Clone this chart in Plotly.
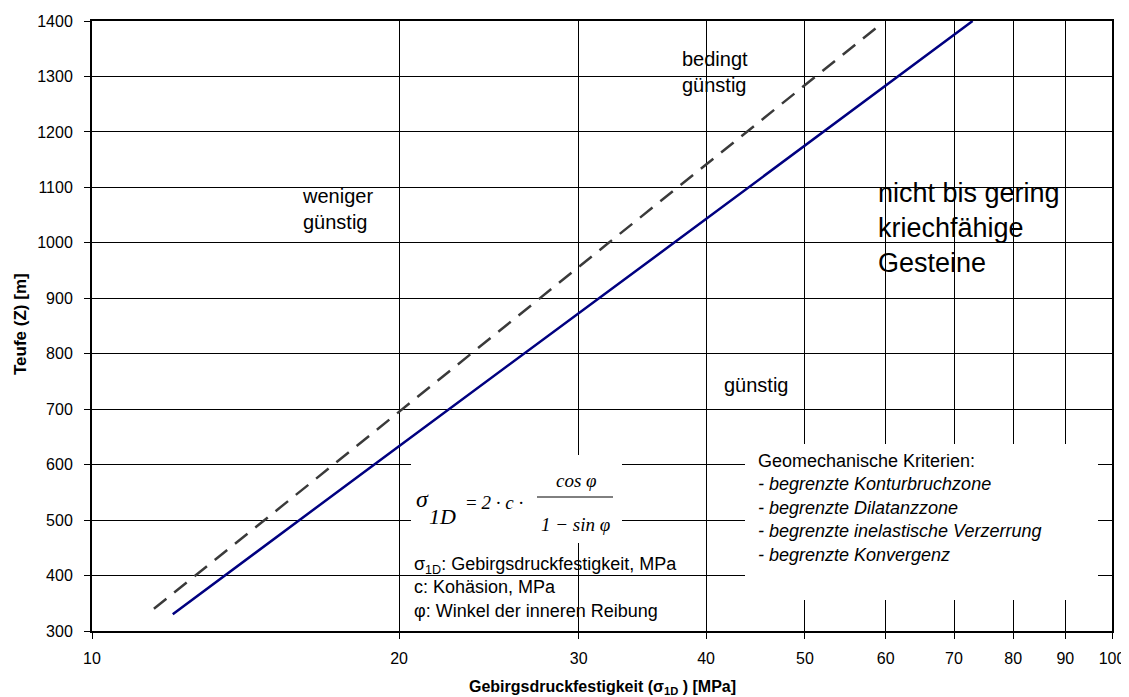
import plotly.graph_objects as go

# Data
solid_x = [12.0, 18.9, 37.2, 73.0]
solid_y = [330, 600, 1000, 1400]
dashed_x = [11.5, 17.25, 32.1, 59.6]
dashed_y = [340, 600, 1000, 1397]

x_tickvals = [10, 20, 30, 40, 50, 60, 70, 80, 90, 100]
x_ticktext = ["10", "20", "30", "40", "50", "60", "70", "80", "90", "100"]
y_tickvals = list(range(300, 1401, 100))

FONT = "Liberation Sans, Arial, sans-serif"
SERIF = "Liberation Serif, Times New Roman, serif"

fig = go.Figure()
fig.add_trace(go.Scatter(x=dashed_x, y=dashed_y, mode="lines",
                         line=dict(color="#3a3a3a", width=2.5, dash="16px,10px"),
                         showlegend=False, hoverinfo="skip"))
fig.add_trace(go.Scatter(x=solid_x, y=solid_y, mode="lines",
                         line=dict(color="#000080", width=2.5),
                         showlegend=False, hoverinfo="skip"))

# page has an 8px body margin: figure is shrunk so it fits the 1129x697 window
OFF = 8
W, H = 1129 - OFF, 697 - OFF
L, R, T, B = 92 - OFF, 17, 21 - OFF, 66
pw, ph = W - L - R, H - T - B


def px(X):  # reference pixel -> paper
    return (X - 92) / pw


def py(Y):
    return (631 - Y) / ph


shapes = [
    dict(type="rect", xref="paper", yref="paper", x0=px(411), x1=px(622), y0=py(543), y1=py(455),
         fillcolor="white", line=dict(width=0), layer="above"),
    dict(type="rect", xref="paper", yref="paper", x0=px(745), x1=px(1098), y0=py(600), y1=py(444),
         fillcolor="white", line=dict(width=0), layer="above"),
    dict(type="line", xref="paper", yref="paper", x0=px(537), x1=px(613), y0=py(497), y1=py(497),
         line=dict(color="black", width=1), layer="above"),
]

ann = []


def add(text, X, Y, size, xanchor="left", family=FONT, align="left", **kw):
    ann.append(dict(text=text, x=px(X), y=py(Y), xref="paper", yref="paper", showarrow=False,
                    xanchor=xanchor, yanchor="middle", align=align,
                    font=dict(family=family, size=size, color="black"), **kw))


add("weniger<br>günstig", 300, 209, 20)
add("bedingt<br>günstig", 680, 72, 20)
add("nicht bis gering<br>kriechfähige<br>Gesteine", 876, 228, 27)
add("günstig", 722, 385, 20)
add("Geomechanische Kriterien:<br><i>- begrenzte Konturbruchzone</i><br><i>- begrenzte Dilatanzzone</i>"
    "<br><i>- begrenzte inelastische Verzerrung</i><br><i>- begrenzte Konvergenz</i>", 756, 508, 18)
add("σ<sub>1D</sub>: Gebirgsdruckfestigkeit, MPa<br>c: Kohäsion, MPa<br>φ: Winkel der inneren Reibung",
    412, 587, 18)
# formula
add("<i>σ</i>", 414, 499, 24, family=SERIF)
add("<i>1D</i>", 427, 516, 22, family=SERIF)
add("= <i>2 · c ·</i>", 464, 502, 19, family=SERIF)
add("<i>cos φ</i>", 576, 480, 19, xanchor="center", family=SERIF)
add("<i>1 − sin φ</i>", 575, 524, 19, xanchor="center", family=SERIF)
# axis titles
add("<b>Gebirgsdruckfestigkeit (σ<sub>1D</sub> ) [MPa]</b>", 602, 687, 16, xanchor="center", align="center")
add("<b>Teufe (Z) [m]</b>", 20, 324, 17, xanchor="center", align="center", textangle=-90)

fig.update_layout(
    width=W, height=H,
    margin=dict(l=L, r=R, t=T, b=B, autoexpand=False),
    paper_bgcolor="white", plot_bgcolor="white",
    font=dict(family=FONT, size=16, color="black"),
    shapes=shapes, annotations=ann,
    showlegend=False,
)
fig.update_xaxes(type="log", range=[1, 2], tickvals=x_tickvals, ticktext=x_ticktext,
                 showgrid=True, gridcolor="black", gridwidth=1,
                 showline=True, linecolor="black", linewidth=2, mirror=True,
                 ticks="outside", ticklen=6, tickcolor="black", tickwidth=1,
                 ticklabelstandoff=6, tickfont=dict(size=16), zeroline=False)
fig.update_yaxes(range=[300, 1400], tickvals=y_tickvals,
                 showgrid=True, gridcolor="black", gridwidth=1,
                 showline=True, linecolor="black", linewidth=2, mirror=True,
                 ticks="outside", ticklen=6, tickcolor="black", tickwidth=1,
                 ticklabelstandoff=8, tickfont=dict(size=16), zeroline=False)

fig.write_html("out.html")
